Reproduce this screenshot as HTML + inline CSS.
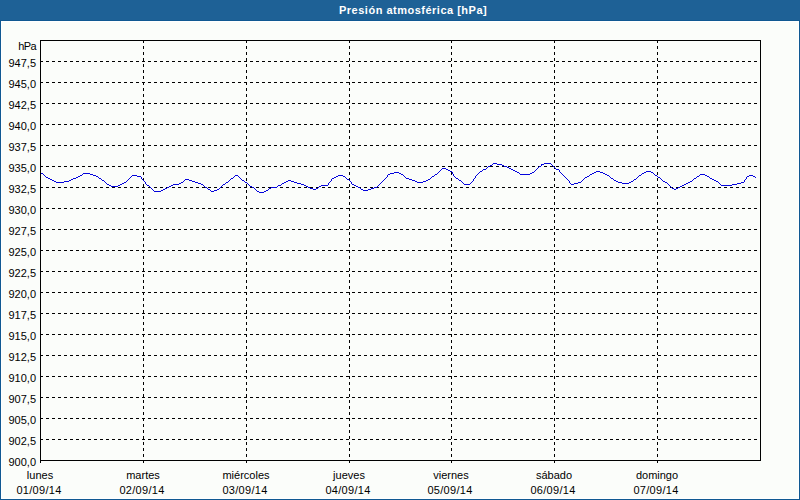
<!DOCTYPE html>
<html><head><meta charset="utf-8">
<style>
*{margin:0;padding:0;box-sizing:border-box}
html,body{width:800px;height:500px;overflow:hidden;background:#fbfdfa}
body{position:relative;font-family:"Liberation Sans",sans-serif;}
#bd{position:absolute;left:0;top:20px;width:800px;height:480px;background:#105892}
#wh{position:absolute;left:1px;top:21px;width:798px;height:478px;background:#fff}
#bg{position:absolute;left:2px;top:22px;width:796px;height:476px;background:#fbfdfa}
#hdr{position:absolute;left:0;top:0;width:800px;height:20px;background:#1e6196}
#title{position:absolute;left:339px;top:4px;font-weight:bold;font-size:11px;letter-spacing:0.5px;color:#fff;white-space:nowrap;line-height:13px}
.yl{position:absolute;right:764px;font-size:11px;line-height:12px;color:#000;white-space:nowrap;text-align:right}
.xl{position:absolute;width:120px;margin-left:-60px;text-align:center;font-size:11px;line-height:13px;color:#000;white-space:nowrap}
svg{position:absolute;left:0;top:0}
.g{stroke:#000;stroke-width:1;stroke-dasharray:3 3;fill:none}
</style></head><body>
<div id="bd"></div><div id="wh"></div><div id="bg"></div>
<div id="hdr"></div>
<div id="title">Presión atmosférica [hPa]</div>
<svg width="800" height="500" viewBox="0 0 800 500" shape-rendering="crispEdges">
<path d="M40 61.5H760" class="g"/><path d="M40 82.5H760" class="g"/><path d="M40 103.5H760" class="g"/><path d="M40 124.5H760" class="g"/><path d="M40 145.5H760" class="g"/><path d="M40 166.5H760" class="g"/><path d="M40 187.5H760" class="g"/><path d="M40 208.5H760" class="g"/><path d="M40 229.5H760" class="g"/><path d="M40 250.5H760" class="g"/><path d="M40 271.5H760" class="g"/><path d="M40 292.5H760" class="g"/><path d="M40 313.5H760" class="g"/><path d="M40 334.5H760" class="g"/><path d="M40 355.5H760" class="g"/><path d="M40 376.5H760" class="g"/><path d="M40 397.5H760" class="g"/><path d="M40 418.5H760" class="g"/><path d="M40 439.5H760" class="g"/><path d="M40 460.5H760" class="g"/><path d="M143.5 40V463" class="g"/><path d="M246.5 40V463" class="g"/><path d="M349.5 40V463" class="g"/><path d="M451.5 40V463" class="g"/><path d="M554.5 40V463" class="g"/><path d="M657.5 40V463" class="g"/><path d="M40.5 460V463" stroke="#000" stroke-width="1"/>
<rect x="40.5" y="40.5" width="720" height="420" fill="none" stroke="#000" stroke-width="1"/>
<path d="M493 163h4v1h-4zM544 163h7v1h-7zM492 164h1v1h-1zM497 164h5v1h-5zM541 164h3v1h-3zM551 164h1v1h-1zM490 165h2v1h-2zM502 165h2v1h-2zM541 165h1v1h-1zM552 165h1v1h-1zM488 166h2v1h-2zM504 166h3v1h-3zM539 166h2v1h-2zM553 166h1v1h-1zM487 167h1v1h-1zM507 167h2v1h-2zM538 167h1v1h-1zM554 167h1v1h-1zM442 168h4v1h-4zM486 168h1v1h-1zM509 168h2v1h-2zM537 168h1v1h-1zM555 168h1v1h-1zM441 169h1v1h-1zM446 169h2v1h-2zM483 169h3v1h-3zM511 169h2v1h-2zM536 169h1v1h-1zM556 169h3v1h-3zM440 170h1v1h-1zM448 170h2v1h-2zM482 170h1v1h-1zM513 170h2v1h-2zM535 170h1v1h-1zM559 170h1v1h-1zM439 171h1v1h-1zM450 171h2v1h-2zM480 171h2v1h-2zM515 171h2v1h-2zM534 171h1v1h-1zM559 171h1v1h-1zM596 171h4v1h-4zM646 171h5v1h-5zM394 172h5v1h-5zM438 172h1v1h-1zM452 172h1v1h-1zM479 172h1v1h-1zM517 172h2v1h-2zM532 172h2v1h-2zM560 172h1v1h-1zM594 172h2v1h-2zM600 172h3v1h-3zM644 172h2v1h-2zM651 172h2v1h-2zM41 173h2v1h-2zM83 173h7v1h-7zM390 173h4v1h-4zM399 173h2v1h-2zM437 173h1v1h-1zM452 173h1v1h-1zM478 173h1v1h-1zM519 173h1v1h-1zM530 173h2v1h-2zM561 173h1v1h-1zM592 173h2v1h-2zM603 173h2v1h-2zM642 173h2v1h-2zM653 173h1v1h-1zM43 174h1v1h-1zM82 174h1v1h-1zM90 174h3v1h-3zM388 174h2v1h-2zM401 174h2v1h-2zM435 174h2v1h-2zM453 174h1v1h-1zM477 174h1v1h-1zM520 174h10v1h-10zM562 174h1v1h-1zM590 174h2v1h-2zM605 174h2v1h-2zM641 174h1v1h-1zM654 174h1v1h-1zM700 174h5v1h-5zM44 175h1v1h-1zM80 175h2v1h-2zM93 175h3v1h-3zM132 175h5v1h-5zM235 175h3v1h-3zM338 175h5v1h-5zM387 175h1v1h-1zM403 175h1v1h-1zM434 175h1v1h-1zM453 175h1v1h-1zM476 175h1v1h-1zM563 175h1v1h-1zM589 175h1v1h-1zM607 175h2v1h-2zM639 175h2v1h-2zM655 175h2v1h-2zM699 175h1v1h-1zM705 175h2v1h-2zM749 175h4v1h-4zM45 176h1v1h-1zM78 176h2v1h-2zM96 176h2v1h-2zM131 176h1v1h-1zM137 176h4v1h-4zM234 176h1v1h-1zM238 176h1v1h-1zM336 176h2v1h-2zM343 176h2v1h-2zM387 176h1v1h-1zM404 176h1v1h-1zM432 176h2v1h-2zM454 176h1v1h-1zM475 176h1v1h-1zM564 176h1v1h-1zM587 176h2v1h-2zM609 176h1v1h-1zM638 176h1v1h-1zM657 176h1v1h-1zM697 176h2v1h-2zM707 176h2v1h-2zM747 176h2v1h-2zM753 176h2v1h-2zM46 177h2v1h-2zM76 177h2v1h-2zM98 177h1v1h-1zM130 177h1v1h-1zM141 177h1v1h-1zM233 177h1v1h-1zM239 177h1v1h-1zM334 177h2v1h-2zM345 177h1v1h-1zM386 177h1v1h-1zM405 177h1v1h-1zM431 177h1v1h-1zM455 177h1v1h-1zM475 177h1v1h-1zM565 177h1v1h-1zM585 177h2v1h-2zM610 177h1v1h-1zM637 177h1v1h-1zM658 177h2v1h-2zM696 177h1v1h-1zM709 177h1v1h-1zM746 177h1v1h-1zM755 177h1v1h-1zM48 178h2v1h-2zM73 178h3v1h-3zM99 178h2v1h-2zM129 178h1v1h-1zM141 178h1v1h-1zM231 178h2v1h-2zM240 178h1v1h-1zM332 178h2v1h-2zM346 178h1v1h-1zM385 178h1v1h-1zM406 178h3v1h-3zM430 178h1v1h-1zM456 178h2v1h-2zM474 178h1v1h-1zM566 178h1v1h-1zM584 178h1v1h-1zM611 178h2v1h-2zM636 178h1v1h-1zM660 178h1v1h-1zM694 178h2v1h-2zM710 178h2v1h-2zM746 178h1v1h-1zM50 179h2v1h-2zM71 179h2v1h-2zM101 179h1v1h-1zM128 179h1v1h-1zM142 179h1v1h-1zM185 179h4v1h-4zM230 179h1v1h-1zM241 179h1v1h-1zM331 179h1v1h-1zM347 179h2v1h-2zM384 179h1v1h-1zM409 179h3v1h-3zM428 179h2v1h-2zM458 179h1v1h-1zM473 179h1v1h-1zM567 179h1v1h-1zM583 179h1v1h-1zM613 179h1v1h-1zM634 179h2v1h-2zM661 179h1v1h-1zM693 179h1v1h-1zM712 179h2v1h-2zM745 179h1v1h-1zM52 180h2v1h-2zM69 180h2v1h-2zM102 180h2v1h-2zM127 180h1v1h-1zM143 180h1v1h-1zM184 180h1v1h-1zM189 180h3v1h-3zM229 180h1v1h-1zM242 180h2v1h-2zM288 180h3v1h-3zM331 180h1v1h-1zM349 180h1v1h-1zM383 180h1v1h-1zM412 180h3v1h-3zM426 180h2v1h-2zM459 180h2v1h-2zM473 180h1v1h-1zM568 180h1v1h-1zM582 180h1v1h-1zM614 180h2v1h-2zM633 180h1v1h-1zM662 180h1v1h-1zM692 180h1v1h-1zM714 180h2v1h-2zM744 180h1v1h-1zM54 181h2v1h-2zM64 181h5v1h-5zM104 181h1v1h-1zM126 181h1v1h-1zM144 181h1v1h-1zM183 181h1v1h-1zM192 181h3v1h-3zM228 181h1v1h-1zM244 181h1v1h-1zM286 181h2v1h-2zM291 181h3v1h-3zM330 181h1v1h-1zM350 181h1v1h-1zM382 181h1v1h-1zM415 181h2v1h-2zM423 181h3v1h-3zM461 181h1v1h-1zM472 181h1v1h-1zM569 181h1v1h-1zM581 181h1v1h-1zM616 181h2v1h-2zM631 181h2v1h-2zM663 181h2v1h-2zM690 181h2v1h-2zM716 181h2v1h-2zM744 181h1v1h-1zM56 182h8v1h-8zM105 182h1v1h-1zM124 182h2v1h-2zM145 182h1v1h-1zM181 182h2v1h-2zM195 182h3v1h-3zM226 182h2v1h-2zM245 182h2v1h-2zM284 182h2v1h-2zM294 182h3v1h-3zM329 182h1v1h-1zM351 182h1v1h-1zM381 182h1v1h-1zM417 182h6v1h-6zM462 182h1v1h-1zM471 182h1v1h-1zM569 182h1v1h-1zM578 182h3v1h-3zM618 182h4v1h-4zM629 182h2v1h-2zM665 182h2v1h-2zM688 182h2v1h-2zM718 182h1v1h-1zM741 182h3v1h-3zM106 183h1v1h-1zM122 183h2v1h-2zM145 183h1v1h-1zM179 183h2v1h-2zM198 183h3v1h-3zM225 183h1v1h-1zM247 183h1v1h-1zM282 183h2v1h-2zM297 183h4v1h-4zM328 183h1v1h-1zM351 183h1v1h-1zM380 183h1v1h-1zM463 183h1v1h-1zM470 183h1v1h-1zM570 183h1v1h-1zM574 183h4v1h-4zM622 183h7v1h-7zM667 183h1v1h-1zM686 183h2v1h-2zM719 183h1v1h-1zM737 183h4v1h-4zM107 184h2v1h-2zM120 184h2v1h-2zM146 184h1v1h-1zM173 184h6v1h-6zM201 184h2v1h-2zM223 184h2v1h-2zM248 184h1v1h-1zM281 184h1v1h-1zM301 184h3v1h-3zM328 184h1v1h-1zM352 184h2v1h-2zM379 184h1v1h-1zM464 184h6v1h-6zM571 184h3v1h-3zM668 184h1v1h-1zM684 184h2v1h-2zM720 184h1v1h-1zM732 184h5v1h-5zM109 185h2v1h-2zM118 185h2v1h-2zM147 185h2v1h-2zM171 185h2v1h-2zM203 185h1v1h-1zM222 185h1v1h-1zM249 185h1v1h-1zM278 185h3v1h-3zM304 185h2v1h-2zM321 185h7v1h-7zM354 185h2v1h-2zM378 185h1v1h-1zM669 185h1v1h-1zM682 185h2v1h-2zM721 185h11v1h-11zM111 186h7v1h-7zM149 186h1v1h-1zM169 186h2v1h-2zM204 186h1v1h-1zM221 186h1v1h-1zM250 186h2v1h-2zM277 186h1v1h-1zM306 186h2v1h-2zM319 186h2v1h-2zM356 186h2v1h-2zM377 186h1v1h-1zM670 186h1v1h-1zM680 186h2v1h-2zM150 187h1v1h-1zM167 187h2v1h-2zM205 187h2v1h-2zM220 187h1v1h-1zM252 187h2v1h-2zM271 187h6v1h-6zM308 187h2v1h-2zM318 187h1v1h-1zM358 187h2v1h-2zM374 187h3v1h-3zM671 187h1v1h-1zM678 187h2v1h-2zM151 188h1v1h-1zM165 188h2v1h-2zM207 188h1v1h-1zM219 188h1v1h-1zM254 188h1v1h-1zM269 188h2v1h-2zM310 188h3v1h-3zM316 188h2v1h-2zM360 188h1v1h-1zM371 188h3v1h-3zM672 188h2v1h-2zM676 188h2v1h-2zM152 189h1v1h-1zM163 189h2v1h-2zM208 189h2v1h-2zM217 189h2v1h-2zM255 189h1v1h-1zM268 189h1v1h-1zM313 189h3v1h-3zM361 189h2v1h-2zM368 189h3v1h-3zM674 189h2v1h-2zM153 190h1v1h-1zM161 190h2v1h-2zM210 190h1v1h-1zM214 190h3v1h-3zM256 190h1v1h-1zM266 190h2v1h-2zM363 190h5v1h-5zM154 191h7v1h-7zM211 191h3v1h-3zM257 191h2v1h-2zM264 191h2v1h-2zM259 192h5v1h-5z" fill="#0404dc"/>
</svg>
<div class="yl" style="top:40px;letter-spacing:-0.6px;right:764px">hPa</div>
<div class="yl" style="top:57px">947,5</div>
<div class="yl" style="top:78px">945,0</div>
<div class="yl" style="top:99px">942,5</div>
<div class="yl" style="top:120px">940,0</div>
<div class="yl" style="top:141px">937,5</div>
<div class="yl" style="top:162px">935,0</div>
<div class="yl" style="top:183px">932,5</div>
<div class="yl" style="top:204px">930,0</div>
<div class="yl" style="top:225px">927,5</div>
<div class="yl" style="top:246px">925,0</div>
<div class="yl" style="top:267px">922,5</div>
<div class="yl" style="top:288px">920,0</div>
<div class="yl" style="top:309px">917,5</div>
<div class="yl" style="top:330px">915,0</div>
<div class="yl" style="top:351px">912,5</div>
<div class="yl" style="top:372px">910,0</div>
<div class="yl" style="top:393px">907,5</div>
<div class="yl" style="top:414px">905,0</div>
<div class="yl" style="top:435px">902,5</div>
<div class="yl" style="top:456px">900,0</div>
<div class="xl" style="left:40px;top:469px">lunes</div>
<div class="xl" style="left:39px;top:484px;letter-spacing:0.3px">01/09/14</div>
<div class="xl" style="left:143px;top:469px">martes</div>
<div class="xl" style="left:142px;top:484px;letter-spacing:0.3px">02/09/14</div>
<div class="xl" style="left:246px;top:469px">miércoles</div>
<div class="xl" style="left:245px;top:484px;letter-spacing:0.3px">03/09/14</div>
<div class="xl" style="left:349px;top:469px">jueves</div>
<div class="xl" style="left:348px;top:484px;letter-spacing:0.3px">04/09/14</div>
<div class="xl" style="left:451px;top:469px">viernes</div>
<div class="xl" style="left:450px;top:484px;letter-spacing:0.3px">05/09/14</div>
<div class="xl" style="left:554px;top:469px">sábado</div>
<div class="xl" style="left:553px;top:484px;letter-spacing:0.3px">06/09/14</div>
<div class="xl" style="left:657px;top:469px">domingo</div>
<div class="xl" style="left:656px;top:484px;letter-spacing:0.3px">07/09/14</div>
</body></html>
